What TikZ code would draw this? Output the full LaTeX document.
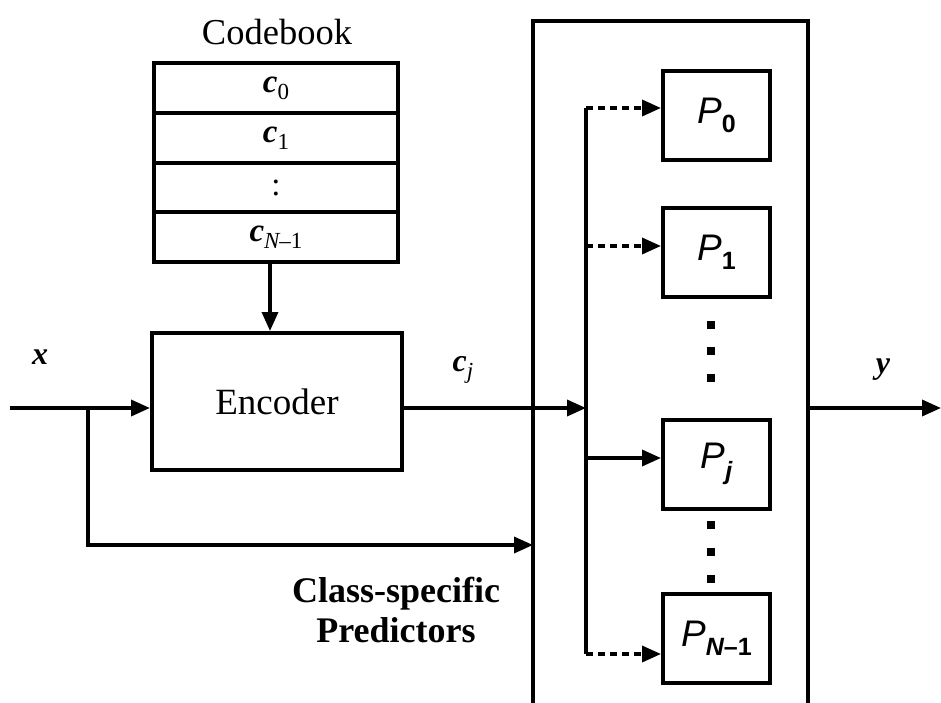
\documentclass[tikz,border=0pt]{standalone}
\usepackage{fontspec}
\setmainfont{Liberation Serif}
\newfontfamily\arialfont{Liberation Sans}
\usetikzlibrary{arrows.meta}

% vector symbols: bold italic letter with a subscript
\newcommand{\vecsym}[2]{{\bfseries\itshape #1}\raisebox{-0.22em}{\fontsize{23}{23}\selectfont #2}}
% predictor label: italic sans P with a bold sans subscript
\newcommand{\predlabel}[1]{{\arialfont\itshape P}\raisebox{-0.25em}{\arialfont\bfseries\fontsize{25}{25}\selectfont #1}}

\begin{document}
\begin{tikzpicture}[x=1pt,y=-1pt,
  line width=3.5pt,
  box/.style={draw,line width=4pt,inner sep=0pt,fill=white},
  cbrow/.style={box,minimum width=244pt,minimum height=49.5pt,font=\fontsize{33}{33}\selectfont},
  predbox/.style={box,minimum width=107pt,minimum height=89pt,font=\fontsize{37}{37}\selectfont},
  label/.style={inner sep=0pt,font=\fontsize{32}{32}\selectfont},
  arr/.style={-{Triangle[length=19pt,width=16pt]}},
  dotarr/.style={arr,dash pattern=on 7pt off 5pt},
  sqdot/.style={fill=black,inner sep=0pt,minimum size=8pt}]

\useasboundingbox (0,0) rectangle (941,703);

% codebook table
\node[inner sep=0pt,font=\fontsize{36.5}{36.5}\selectfont] (cbtitle) at (277,32) {Codebook};
\node[cbrow] (c0) at (276,88) {\vecsym{c}{0}};
\node[cbrow] (c1) at (276,138) {\vecsym{c}{1}};
\node[cbrow] (cdots) at (276,187.5) {:};
\node[cbrow] (cN) at (276,237) {\vecsym{c}{\itshape N\upshape –1}};

% encoder
\node[box,minimum width=250pt,minimum height=137pt,font=\fontsize{37}{37}\selectfont] (enc) at (277,401.5) {Encoder};
\draw[arr] (cN.south -| 270,0) -- (enc.north -| 270,0);

% predictor bank, open at the bottom
\draw[line width=4pt] (533,703) -- (533,21) -- (808,21) -- (808,703);
\coordinate (bankin) at (533,545);
\coordinate (bankout) at (808,408);

\node[predbox] (p0) at (716.5,115.5) {\predlabel{0}};
\node[predbox] (p1) at (716.5,252.5) {\predlabel{1}};
\node[predbox] (pj) at (716.5,464) {{\arialfont\itshape P}\raisebox{-0.3em}{\arialfont\bfseries\itshape\fontsize{25}{25}\selectfont j}};
\node[predbox] (pn) at (716.5,638) {{\arialfont\itshape P}\raisebox{-0.25em}{\arialfont\bfseries\fontsize{25}{25}\selectfont{\itshape N}–1}};

\foreach \yy [count=\i] in {325,351,378,525,552,579}
  \node[sqdot] (d\i) at (711,\yy) {};

% distribution bus
\coordinate (bustop) at (586,108);
\coordinate (busin) at (586,408);
\coordinate (busbot) at (586,654);
\draw (bustop) -- (busbot);
\draw[dotarr] (bustop) -- (bustop -| p0.west);
\draw[dotarr] (586,246) -- (p1.west |- 0,246);
\draw[arr] (586,458) -- (pj.west |- 0,458);
\draw[dotarr] (busbot) -- (busbot -| pn.west);

% input, codeword and output signals
\coordinate (xin) at (10,408);
\coordinate (branch) at (88,408);
\coordinate (yout) at (941,408);
\draw[arr] (xin) -- (enc.west |- xin);
\draw[arr] (enc.east |- busin) -- (busin);
\draw[arr] (branch) |- (bankin);
\draw[arr] (bankout) -- (yout);

\node[label] (xlab) at (40,357) {\bfseries\itshape x};
\node[label] (cjlab) at (463,370) {\vecsym{c}{\itshape j}};
\node[label] (ylab) at (883,370) {\bfseries\itshape y};

\node[inner sep=0pt,align=center,font=\bfseries\fontsize{36}{40}\selectfont] (cls) at (396,610) {Class-specific\\Predictors};
\end{tikzpicture}
\end{document}
